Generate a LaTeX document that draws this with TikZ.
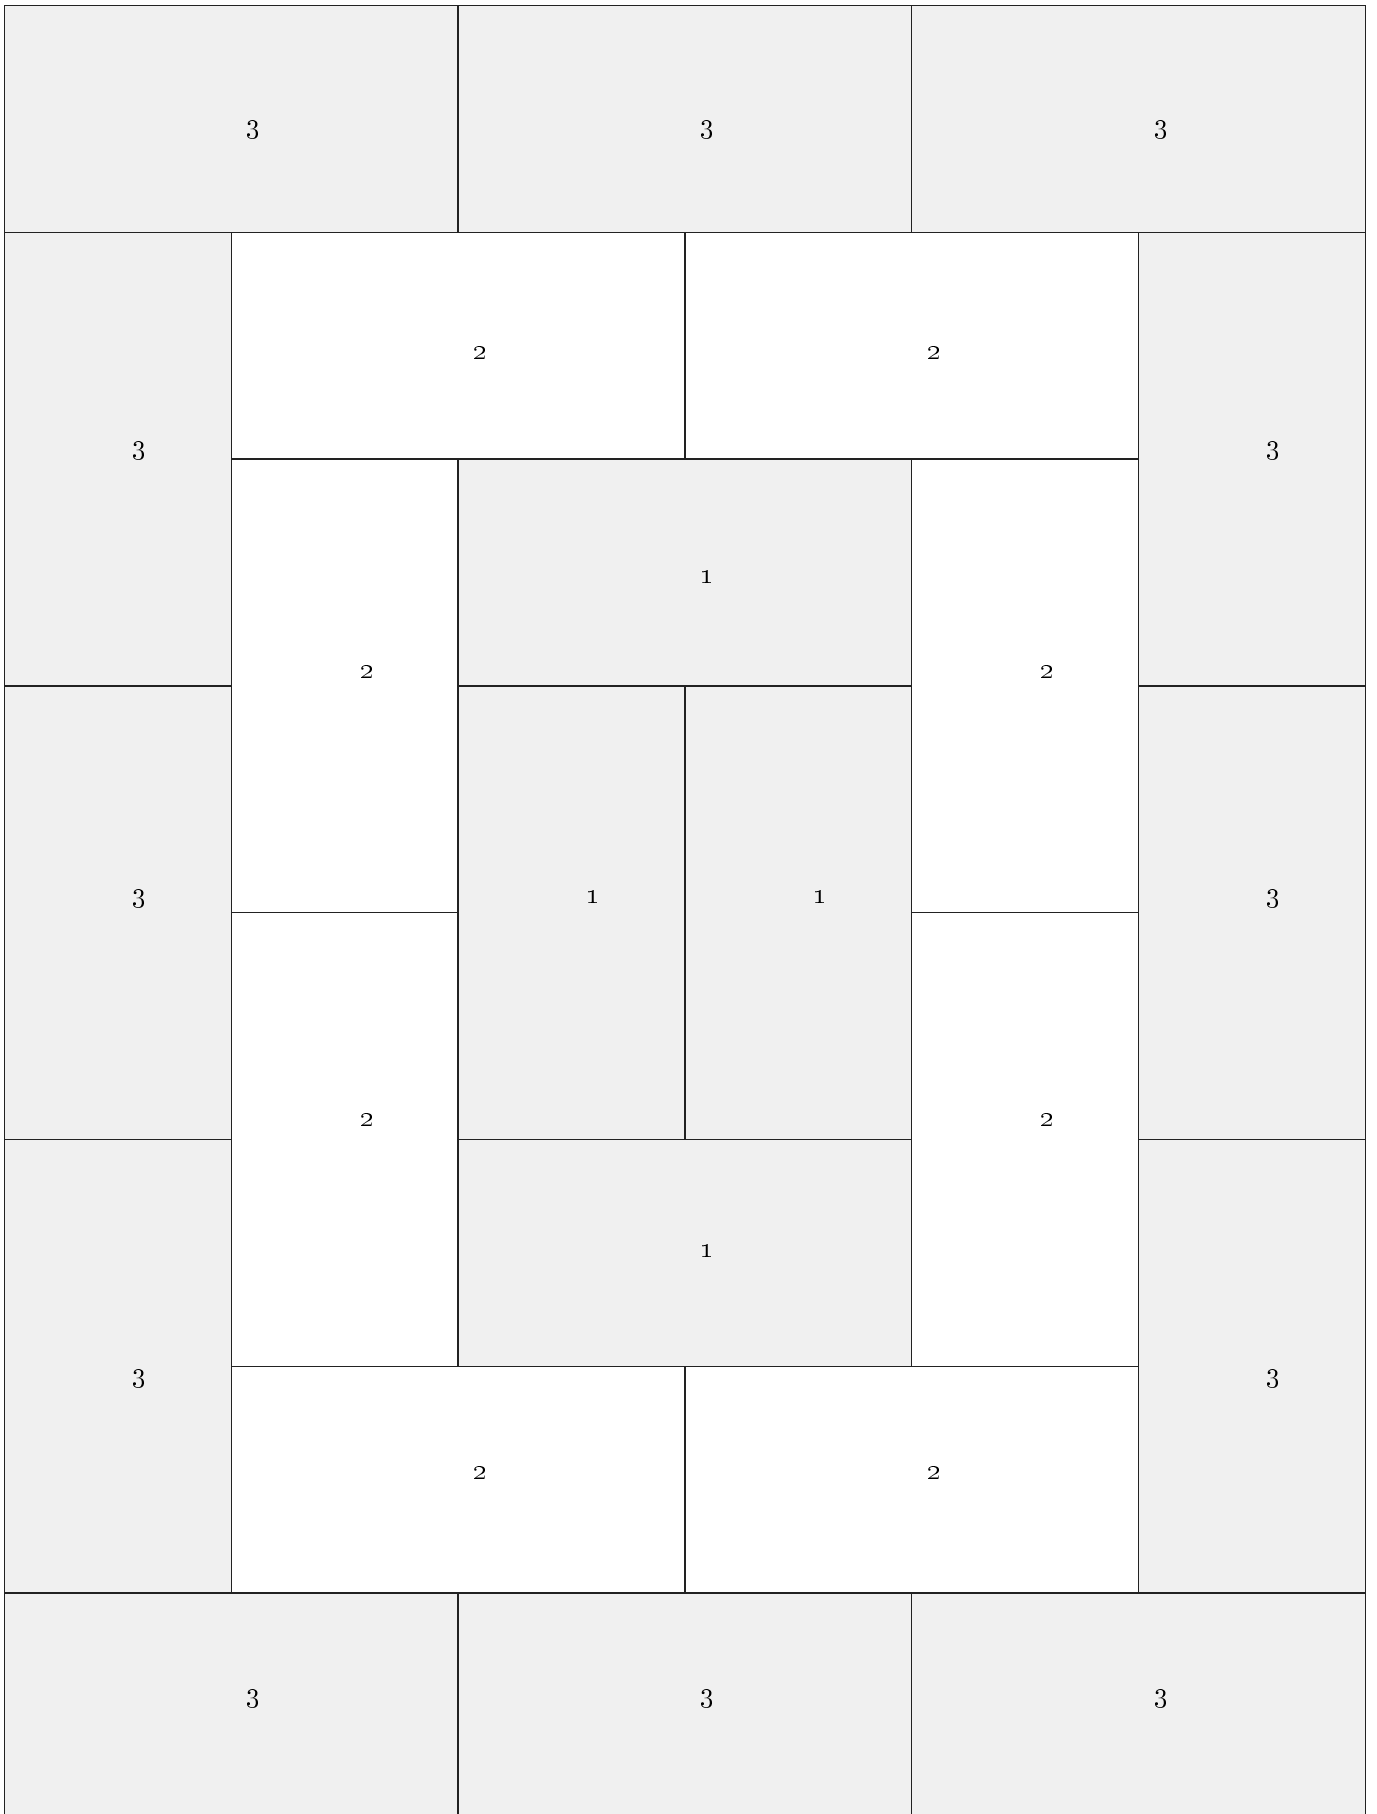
\documentclass[tikz,border=0pt]{standalone}
\definecolor{cellgray}{HTML}{F0F0F0}
\definecolor{lineclr}{HTML}{222222}
\tikzset{
  gcell/.style={fill=cellgray,draw=lineclr,line width=0.75pt},
  wcell/.style={fill=white,draw=lineclr,line width=0.75pt},
  lab/.style={inner sep=0pt,font=\fontsize{13.5}{16}\selectfont}
}
\newcommand\mycell[5]{\path[#1] ({4.5+#2*226.8},{5.5+#3*226.8}) rectangle ({4.5+#4*226.8},{5.5+#5*226.8});}
\begin{document}
\begin{tikzpicture}[x=0.5pt,y=-0.5pt]
\useasboundingbox (0,0) rectangle (1376,1814);
\clip (0,0) rectangle (1376,1814);
\fill[white] (0,0) rectangle (1376,1814);
% outer ring (3)
\mycell{gcell}{0}{0}{2}{1}
\mycell{gcell}{2}{0}{4}{1}
\mycell{gcell}{4}{0}{6}{1}
\mycell{gcell}{0}{1}{1}{3}
\mycell{gcell}{0}{3}{1}{5}
\mycell{gcell}{0}{5}{1}{7}
\mycell{gcell}{5}{1}{6}{3}
\mycell{gcell}{5}{3}{6}{5}
\mycell{gcell}{5}{5}{6}{7}
\mycell{gcell}{0}{7}{2}{8}
\mycell{gcell}{2}{7}{4}{8}
\mycell{gcell}{4}{7}{6}{8}
% middle ring (2)
\mycell{wcell}{1}{1}{3}{2}
\mycell{wcell}{3}{1}{5}{2}
\mycell{wcell}{1}{2}{2}{4}
\mycell{wcell}{1}{4}{2}{6}
\mycell{wcell}{4}{2}{5}{4}
\mycell{wcell}{4}{4}{5}{6}
\mycell{wcell}{1}{6}{3}{7}
\mycell{wcell}{3}{6}{5}{7}
% inner ring (1)
\mycell{gcell}{2}{2}{4}{3}
\mycell{gcell}{2}{3}{3}{5}
\mycell{gcell}{3}{3}{4}{5}
\mycell{gcell}{2}{5}{4}{6}
% labels
\node[lab] (t1) at (253.4,130.5) {\oldstylenums{3}};
\node[lab] (t2) at (707.1,130.5) {\oldstylenums{3}};
\node[lab] (t3) at (1161.5,130.5) {\oldstylenums{3}};
\node[lab] (l1) at (138.9,451.3) {\oldstylenums{3}};
\node[lab] (l2) at (138.9,899.2) {\oldstylenums{3}};
\node[lab] (l3) at (138.9,1379.5) {\oldstylenums{3}};
\node[lab] (r1) at (1273.0,451.3) {\oldstylenums{3}};
\node[lab] (r2) at (1273.0,899.2) {\oldstylenums{3}};
\node[lab] (r3) at (1273.0,1379.5) {\oldstylenums{3}};
\node[lab] (b1) at (253.4,1699.5) {\oldstylenums{3}};
\node[lab] (b2) at (707.1,1699.5) {\oldstylenums{3}};
\node[lab] (b3) at (1161.5,1699.5) {\oldstylenums{3}};
\node[lab] (mt1) at (480.3,353.0) {\oldstylenums{2}};
\node[lab] (mt2) at (933.9,353.0) {\oldstylenums{2}};
\node[lab] (ml1) at (366.9,672.4) {\oldstylenums{2}};
\node[lab] (ml2) at (366.9,1120.2) {\oldstylenums{2}};
\node[lab] (mr1) at (1047.3,672.4) {\oldstylenums{2}};
\node[lab] (mr2) at (1047.3,1120.2) {\oldstylenums{2}};
\node[lab] (mb1) at (480.3,1473.2) {\oldstylenums{2}};
\node[lab] (mb2) at (933.9,1473.2) {\oldstylenums{2}};
\node[lab] (it) at (707.1,577.3) {\oldstylenums{1}};
\node[lab] (im1) at (593.7,896.9) {\oldstylenums{1}};
\node[lab] (im2) at (820.5,896.9) {\oldstylenums{1}};
\node[lab] (ib) at (707.1,1251.0) {\oldstylenums{1}};
\end{tikzpicture}
\end{document}
